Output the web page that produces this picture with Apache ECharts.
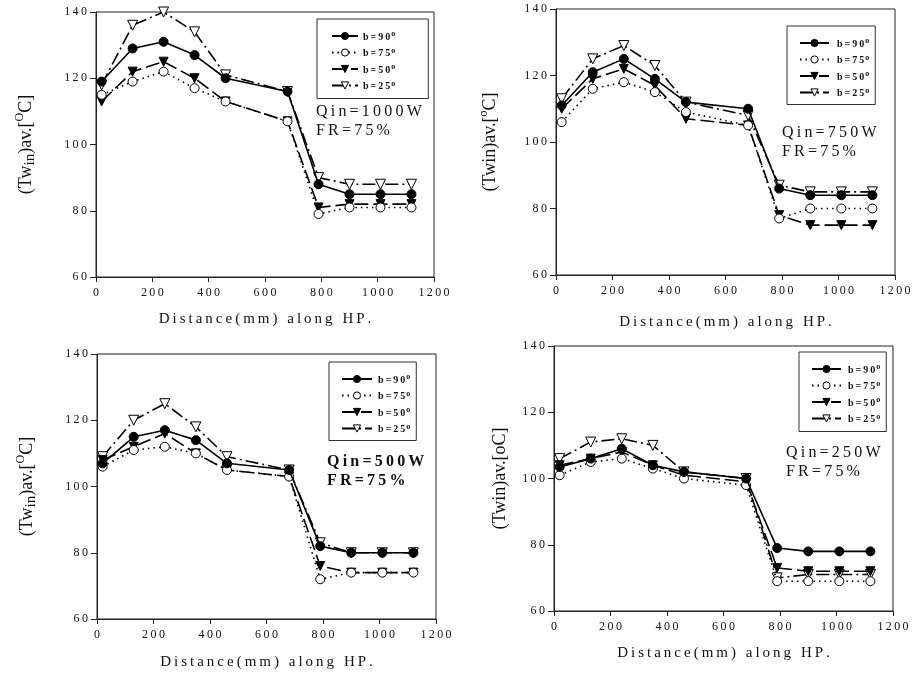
<!DOCTYPE html>
<html>
<head>
<meta charset="utf-8">
<script src="https://cdn.jsdelivr.net/npm/echarts@6/dist/echarts.min.js"></script>
<style>
  html, body { margin: 0; padding: 0; background: #fff; }
  #chart { width: 915px; height: 676px; }
</style>
</head>
<body>
<div id="chart"></div>
<script>
// Distance of each thermocouple along the heat pipe (mm)
const distance = [20, 130, 240, 350, 460, 680, 790, 900, 1010, 1120];

// Qin = 1000 W
const b90_1000 = [119, 129, 131, 127, 120, 116, 88, 85, 85, 85];
const b75_1000 = [115, 119, 122, 117, 113, 107, 79, 81, 81, 81];
const b50_1000 = [113, 122, 125, 120, 113, 107, 81, 82, 82, 82];
const b25_1000 = [118, 136, 140, 134, 121, 116, 90, 88, 88, 88];

// Qin = 750 W
const b90_750 = [111, 121, 125, 119, 112, 110, 86, 84, 84, 84];
const b75_750 = [106, 116, 118, 115, 109, 105, 77, 80, 80, 80];
const b50_750 = [110, 119, 122, 117, 107, 105, 78, 75, 75, 75];
const b25_750 = [113, 125, 129, 123, 112, 108, 87, 85, 85, 85];

// Qin = 500 W
const b90_500 = [107, 115, 117, 114, 107, 105, 82, 80, 80, 80];
const b75_500 = [106, 111, 112, 110, 105, 103, 72, 74, 74, 74];
const b50_500 = [108, 112, 116, 110, 105, 103, 76, 74, 74, 74];
const b25_500 = [109, 120, 125, 118, 109, 105, 83, 80, 80, 80];

// Qin = 250 W
const b90_250 = [103.5, 106, 109, 104, 102, 100, 79, 78, 78, 78];
const b75_250 = [101, 105, 106, 103, 100, 98, 69, 69, 69, 69];
const b50_250 = [104, 106, 108, 104, 101, 99, 73, 72, 72, 72];
const b25_250 = [106, 111, 112, 110, 102, 100, 70, 71, 71, 71];

const angleNames = ['b=90', 'b=75', 'b=50', 'b=25'];
const panelData = [
  [b90_1000, b75_1000, b50_1000, b25_1000],
  [b90_750, b75_750, b50_750, b25_750],
  [b90_500, b75_500, b50_500, b25_500],
  [b90_250, b75_250, b50_250, b25_250]
];
const heatInput = ['Qin=1000W', 'Qin=750W', 'Qin=500W', 'Qin=250W'];
const fillRatio = 'FR=75%';
const xTitle = 'Distance(mm) along HP.';

const SERIF = '"Liberation Serif", "DejaVu Serif", serif';
const INK = '#111';

// widen text the way the printed figure is set
const spaced = s => String(s).split('').join('\u2009');

const grids = [
  { left: 96, top: 12, width: 338, height: 265 },
  { left: 556, top: 9, width: 339, height: 266 },
  { left: 97, top: 354, width: 339, height: 265 },
  { left: 554, top: 346, width: 339, height: 265 }
];

const yNames = [
  '{n|(Tw}{sub|in}{n|)av.[}{sup|O}{n|C]}',
  '{n|(Twin)av.[}{sup|o}{n|C]}',
  '{n|(Tw}{sub|in}{n|)av.[}{sup|O}{n|C]}',
  '{n|(Twin)av.[oC]}'
];
const yNameGaps = [58, 54, 58, 42];
const xNameGaps = [35, 40, 36, 35];

const nameRich = {
  n: { fontFamily: SERIF, fontSize: 18, color: INK, lineHeight: 24 },
  sub: { fontFamily: SERIF, fontSize: 15, color: INK, verticalAlign: 'bottom', lineHeight: 24, padding: [6, 0, 0, 0] },
  sup: { fontFamily: SERIF, fontSize: 12, color: INK, verticalAlign: 'top', lineHeight: 24, padding: [0, 0, 9, 0] }
};

const styles = [
  { symbol: 'circle', size: 9, rotate: 0, fill: '#000', dash: 'solid' },
  { symbol: 'circle', size: 9, rotate: 0, fill: '#fff', dash: [1.5, 4] },
  { symbol: 'triangle', size: 9, rotate: 180, fill: '#000', dash: [14, 5] },
  { symbol: 'triangle', size: 10, rotate: 180, fill: '#fff', dash: [13, 4, 2, 4] }
];

const xAxes = [], yAxes = [], series = [], legends = [];
grids.forEach((g, i) => {
  xAxes.push({
    gridIndex: i, type: 'value', min: 0, max: 1200, interval: 200,
    name: spaced(xTitle), nameLocation: 'middle', nameGap: xNameGaps[i],
    nameTextStyle: { fontFamily: SERIF, fontSize: 15, color: INK },
    axisLine: { onZero: false, lineStyle: { color: '#222', width: 1 } },
    axisTick: { show: true, length: 5, lineStyle: { color: '#222' } },
    axisLabel: { margin: 10, fontFamily: SERIF, fontSize: 12, color: INK, formatter: v => spaced(v) },
    splitLine: { show: false }
  });
  yAxes.push({
    gridIndex: i, type: 'value', min: 60, max: 140, interval: 20,
    name: yNames[i], nameLocation: 'middle', nameRotate: 90, nameGap: yNameGaps[i],
    nameTextStyle: { rich: nameRich },
    axisLine: { onZero: false, lineStyle: { color: '#222', width: 1 } },
    axisTick: { show: true, length: 6, lineStyle: { color: '#222' } },
    axisLabel: { margin: 9, fontFamily: SERIF, fontSize: 12, color: INK, formatter: v => spaced(v) },
    splitLine: { show: false }
  });
  panelData[i].forEach((vals, k) => {
    const st = styles[k];
    series.push({
      type: 'line', name: angleNames[k], xAxisIndex: i, yAxisIndex: i,
      data: distance.map((d, j) => [d, vals[j]]),
      symbol: st.symbol, symbolSize: st.size, symbolRotate: st.rotate,
      showAllSymbol: true, animation: false, silent: true,
      lineStyle: { color: '#000', width: 1.6, type: st.dash },
      itemStyle: { color: st.fill, borderColor: '#000', borderWidth: 1 },
      z: 2 + (3 - k)
    });
  });
});

// legend frames: position, padding [t, r, b, l], key length, key-to-text gap
const legendBoxes = [
  { left: 317, top: 19, pad: [11, 33, 7, 14], key: 26, gap: 3 },
  { left: 787, top: 26, pad: [11, 6, 6, 12], key: 29, gap: 8 },
  { left: 329, top: 362, pad: [11, 6, 6, 12], key: 30, gap: 6 },
  { left: 799, top: 352, pad: [11, 6, 7, 12], key: 29, gap: 7 }
];
legendBoxes.forEach(p => {
  legends.push({
    left: p.left, top: p.top, orient: 'vertical',
    data: angleNames, selectedMode: false,
    borderColor: '#333', borderWidth: 1, backgroundColor: '#fff',
    padding: p.pad, itemWidth: p.key, itemHeight: 9, itemGap: 4.5,
    itemStyle: { borderWidth: 1 },
    lineStyle: { width: 2 },
    formatter: name => '{t|' + spaced(name) + '}{s|o}',
    textStyle: {
      rich: {
        t: { fontFamily: SERIF, fontSize: 10, fontWeight: 'bold', color: INK, lineHeight: 12, padding: [2, 0, 0, Math.max(0, p.gap - 5)] },
        s: { fontFamily: SERIF, fontSize: 8, fontWeight: 'bold', color: INK, lineHeight: 12, verticalAlign: 'top', padding: [0, 0, 4, 1] }
      }
    }
  });
});

// heat input and fill ratio captions inside each panel
const captions = [
  { x: 316, y: 112, bold: false },
  { x: 782, y: 133, bold: false },
  { x: 327, y: 462, bold: true },
  { x: 786, y: 453, bold: false }
];
const graphics = [];
captions.forEach((c, i) => {
  [heatInput[i], fillRatio].forEach((t, r) => {
    graphics.push({
      type: 'text', x: c.x, y: c.y + r * 19, silent: true,
      style: {
        text: spaced(t), fontFamily: SERIF, fontSize: 16,
        fontWeight: c.bold ? 'bold' : 'normal', fill: INK, verticalAlign: 'middle'
      }
    });
  });
});

const chart = echarts.init(document.getElementById('chart'), null, { renderer: 'canvas' });
chart.setOption({
  backgroundColor: '#fff',
  animation: false,
  grid: grids.map(g => Object.assign({ show: true, borderColor: '#222', borderWidth: 1, backgroundColor: 'transparent' }, g)),
  xAxis: xAxes,
  yAxis: yAxes,
  legend: legends,
  series: series,
  graphic: graphics
});
</script>
</body>
</html>
